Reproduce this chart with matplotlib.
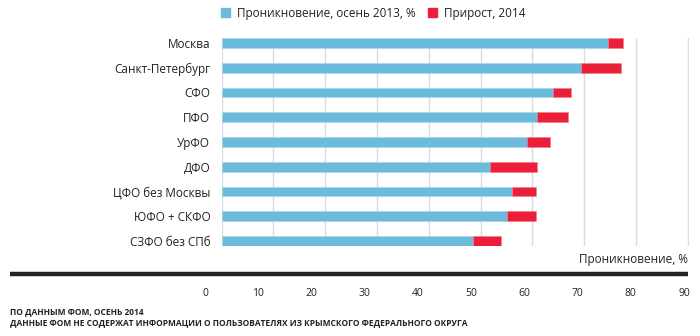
import matplotlib.pyplot as plt
from matplotlib.lines import Line2D
from matplotlib.patches import Patch

plt.rcParams['font.family'] = ['Open Sans', 'DejaVu Sans']

# --- DATA ---
regions = ["Москва", "Санкт-Петербург", "СФО", "ПФО", "УрФО", "ДФО",
           "ЦФО без Москвы", "ЮФО + СКФО", "СЗФО без СПб"]
penetration_2013 = [74.5, 69.3, 63.9, 60.9, 59.0, 51.8, 56.1, 55.1, 48.5]
growth_2014 = [2.9, 7.7, 3.6, 5.9, 4.4, 9.1, 4.5, 5.5, 5.5]
ticks = list(range(0, 100, 10))

blue = "#6bbbdd"
red = "#ec1f3a"
txt = "#222222"

fig = plt.figure(figsize=(7, 3.36), dpi=100)
ax = fig.add_axes([221.5 / 700, 1 - 246 / 336, (689 - 221.5) / 700, 208 / 336])

y = list(range(len(regions)))
h = 0.4
ax.barh(y, penetration_2013, height=h, color=blue, edgecolor="#a8d6ea", linewidth=0.4, zorder=3)
ax.barh(y, growth_2014, left=penetration_2013, height=h, color=red,
        edgecolor="#f27a8a", linewidth=0.4, zorder=3)

ax.set_xlim(0, 90.2)
ax.set_ylim(len(regions) - 1 + h / 2, -h / 2)
ax.set_xticks(ticks)
ax.xaxis.grid(True, color="#d5dde0", linewidth=1, zorder=0)
ax.tick_params(axis="x", length=0, labelbottom=False)
ax.tick_params(axis="y", length=0, pad=8, labelsize=8.5, labelcolor=txt)
ax.set_yticks(y)
ax.set_yticklabels(regions)
for s in ax.spines.values():
    s.set_visible(False)

# шкала подписей снизу (сдвинута относительно сетки, как в оригинале)
ax2 = fig.add_axes([205 / 700, 1 - 288 / 336, (684 - 205) / 700, 0.001])
ax2.set_xlim(0, 90)
ax2.set_xticks(ticks)
ax2.set_yticks([])
ax2.tick_params(axis="x", length=0, pad=0, labelsize=7.5, labelcolor=txt)
for s in ax2.spines.values():
    s.set_visible(False)

# толстая линия и подпись оси
fig.add_artist(Line2D([10 / 700, 688 / 700], [1 - 273.7 / 336] * 2,
                      color="#222222", linewidth=3.2, solid_capstyle="butt"))
fig.text(688 / 700, 1 - 260 / 336, "Проникновение, %", ha="right", va="center",
         fontsize=8.5, color=txt)

# легенда
handles = [Patch(color=blue, label="Проникновение, осень 2013, %"),
           Patch(color=red, label="Прирост, 2014")]
fig.legend(handles=handles, loc="center left", bbox_to_anchor=(210 / 700, 1 - 13 / 336),
           ncol=2, frameon=False, fontsize=8.5, handlelength=0.8, handleheight=0.8,
           handletextpad=0.6, columnspacing=1.0, labelcolor=txt)

# примечания
fig.text(10 / 700, 1 - 312 / 336, "ПО ДАННЫМ ФОМ, ОСЕНЬ 2014", fontsize=6,
         fontweight="bold", color=txt, va="center")
fig.text(10 / 700, 1 - 323 / 336,
         "ДАННЫЕ ФОМ НЕ СОДЕРЖАТ ИНФОРМАЦИИ О ПОЛЬЗОВАТЕЛЯХ ИЗ КРЫМСКОГО ФЕДЕРАЛЬНОГО ОКРУГА",
         fontsize=6, fontweight="bold", color=txt, va="center")

fig.savefig("out.png", dpi=100)
